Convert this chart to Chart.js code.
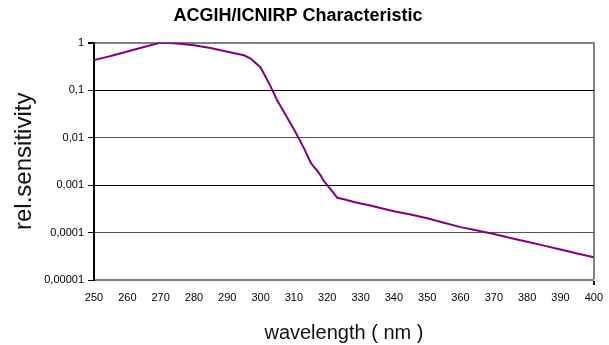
<!DOCTYPE html>
<html>
<head>
<meta charset="utf-8">
<script src="https://cdn.jsdelivr.net/npm/chart.js@4/dist/chart.umd.min.js"></script>
<style>
  html, body { margin: 0; padding: 0; background: #fff; }
  #wrap { width: 609px; height: 345px; }
</style>
</head>
<body>
<div id="wrap"><canvas id="chart"></canvas></div>
<script>
// ACGIH/ICNIRP weighting
const wavelengths = [250, 254, 255, 260, 265, 270, 275, 280, 285, 290, 295, 297, 300, 303, 305, 308, 310, 313, 315, 316, 317, 318, 319, 320, 322, 323, 325, 328, 330, 333, 335, 340, 345, 350, 355, 360, 365, 370, 375, 380, 385, 390, 395, 400];
const sensitivity = [0.43, 0.5, 0.52, 0.65, 0.81, 1.0, 0.96, 0.88, 0.77, 0.64, 0.54, 0.46, 0.3, 0.12, 0.06, 0.026, 0.015, 0.006, 0.003, 0.0024, 0.002, 0.0016, 0.0012, 0.001, 0.00067, 0.00054, 0.0005, 0.00044, 0.00041, 0.00037, 0.00034, 0.00028, 0.00024, 0.0002, 0.00016, 0.00013, 0.00011, 0.000093, 0.000077, 0.000064, 0.000053, 0.000044, 0.000036, 0.00003];
const yTicks = [1, 0.1, 0.01, 0.001, 0.0001, 0.00001];
const yTickLabels = ['1', '0,1', '0,01', '0,001', '0,0001', '0,00001'];

const points = wavelengths.map((w, i) => ({ x: w, y: sensitivity[i] }));

const gridColour = (v) => {
  if (v === 1) return '#808080';
  if (v === 0.1 || v === 0.001) return '#000000';
  return '#555555';
};

const ctx = document.getElementById('chart').getContext('2d');
new Chart(ctx, {
  type: 'line',
  data: {
    datasets: [{
      data: points,
      borderColor: '#800080',
      borderWidth: 2,
      pointRadius: 0,
      tension: 0,
      fill: false
    }]
  },
  options: {
    responsive: true,
    maintainAspectRatio: false,
    animation: false,
    layout: { padding: { left: 0, right: 13, top: 0, bottom: 0 } },
    plugins: {
      legend: { display: false },
      tooltip: { enabled: false },
      title: {
        display: true,
        text: 'ACGIH/ICNIRP Characteristic',
        color: '#000',
        font: { family: 'Liberation Sans', size: 18, weight: 'bold' },
        padding: { top: 5, bottom: 16 }
      }
    },
    scales: {
      x: {
        type: 'linear',
        min: 250,
        max: 400,
        ticks: {
          stepSize: 10,
          color: '#000',
          font: { family: 'Liberation Sans', size: 11 },
          padding: 6,
          maxRotation: 0
        },
        grid: {
          color: (c) => (c.tick && c.tick.value === 400 ? '#808080' : 'rgba(0,0,0,0)'),
          lineWidth: (c) => (c.tick && c.tick.value === 400 ? 2 : 0),
          tickColor: '#000',
          tickLength: 5
        },
        border: { color: '#808080', width: 2 },
        title: {
          display: true,
          text: 'wavelength ( nm )',
          color: '#111',
          font: { family: 'Liberation Sans', size: 20 },
          padding: { top: 6, bottom: 0 }
        },
        afterFit: (scale) => { scale.height = 65; }
      },
      y: {
        type: 'logarithmic',
        min: 0.00001,
        max: 1,
        afterBuildTicks: (scale) => { scale.ticks = yTicks.map(v => ({ value: v })); },
        ticks: {
          color: '#000',
          font: { family: 'Liberation Sans', size: 11 },
          padding: 4,
          callback: (v) => {
            const i = yTicks.findIndex(t => Math.abs(t - v) / t < 1e-6);
            return i >= 0 ? yTickLabels[i] : '';
          }
        },
        grid: {
          color: (c) => gridColour(c.tick ? c.tick.value : 0),
          lineWidth: (c) => (c.tick && c.tick.value === 1 ? 2 : 1),
          tickColor: '#000',
          tickLength: 6
        },
        border: { color: '#000', width: 2 },
        title: {
          display: true,
          text: 'rel.sensitivity',
          color: '#111',
          font: { family: 'Liberation Sans', size: 24 },
          padding: { top: 10, bottom: 0 }
        },
        afterFit: (scale) => { scale.width = 94; }
      }
    }
  }
});
</script>
</body>
</html>
